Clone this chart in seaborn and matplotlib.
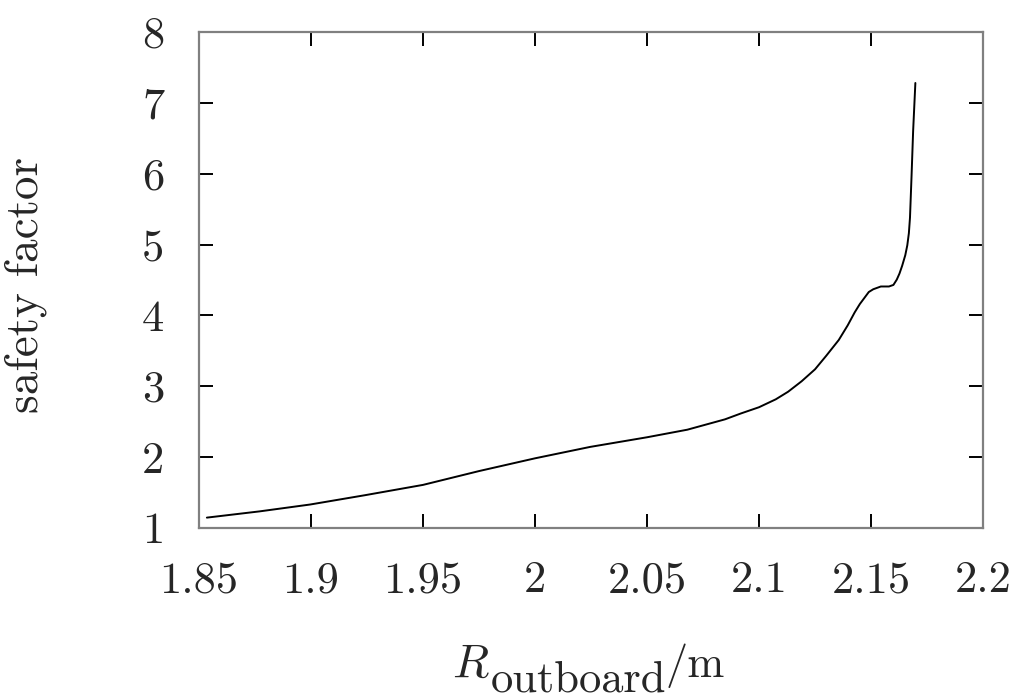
import matplotlib
matplotlib.use("Agg")
import matplotlib.pyplot as plt
import seaborn as sns
import pandas as pd

# Safety factor profile against outboard major radius
r_outboard = [1.8535, 1.877, 1.8996, 1.924, 1.950, 1.975, 2.000, 2.0246, 2.050,
              2.068, 2.0848, 2.0919, 2.100, 2.1075, 2.113, 2.119, 2.125, 2.130,
              2.1356, 2.1396, 2.1427, 2.145, 2.1474, 2.149, 2.151, 2.1544,
              2.158, 2.160, 2.1615, 2.1627, 2.1639, 2.1653, 2.1662, 2.1669,
              2.1674, 2.1681, 2.1688, 2.1698]
safety_factor = [1.146, 1.234, 1.331, 1.462, 1.608, 1.803, 1.983, 2.144, 2.280,
                 2.387, 2.533, 2.616, 2.704, 2.816, 2.923, 3.07, 3.239, 3.43,
                 3.653, 3.86, 4.042, 4.16, 4.262, 4.33, 4.369, 4.408,
                 4.408, 4.43, 4.505, 4.59, 4.70, 4.85, 4.99, 5.16,
                 5.38, 5.97, 6.60, 7.28]

x_ticks = [1.85, 1.9, 1.95, 2.0, 2.05, 2.1, 2.15, 2.2]
x_tick_labels = ["1.85", "1.9", "1.95", "2", "2.05", "2.1", "2.15", "2.2"]
y_ticks = [1, 2, 3, 4, 5, 6, 7, 8]

df = pd.DataFrame({"R": r_outboard, "q": safety_factor})

sns.set_style("ticks")
plt.rcParams["font.family"] = ["cmr10", "DejaVu Serif"]
plt.rcParams["mathtext.fontset"] = "cm"
plt.rcParams["axes.formatter.use_mathtext"] = True

fig = plt.figure(figsize=(10.26, 6.98), dpi=100)
ax = fig.add_axes([0.1940, 0.2436, 0.7641, 0.7106])

sns.lineplot(data=df, x="R", y="q", ax=ax, color="black", linewidth=1.4,
             estimator=None)

ax.set_xlim(1.85, 2.2)
ax.set_ylim(1, 8)
ax.set_xticks(x_ticks)
ax.set_xticklabels(x_tick_labels)
ax.set_yticks(y_ticks)
ax.set_yticklabels([str(v) for v in y_ticks])

for side in ["left", "right", "top", "bottom"]:
    ax.spines[side].set_visible(True)
    ax.spines[side].set_color("#808080")
    ax.spines[side].set_linewidth(1.6)

ax.tick_params(direction="in", length=10, width=1.4, color="black",
               top=True, right=True, labelsize=32)
ax.tick_params(axis="x", pad=24)
ax.tick_params(axis="y", pad=25)

# y-axis label
ax.set_ylabel("safety factor", fontsize=34)
ax.yaxis.set_label_coords(-0.194, 0.49)

# x-axis label: italic R with a full-size roman subscript, then "/m"
ax.set_xlabel("")
lbl_size = 32
main_base = 1 - 677 / 698
sub_base = 1 - 691 / 698
t_r = ax.annotate("$R$", xy=(452 / 1026, main_base), xycoords="figure fraction",
                  ha="left", va="baseline", fontsize=lbl_size + 2,
                  annotation_clip=False)
t_sub = ax.annotate("outboard", xy=(1.0, sub_base),
                    xycoords=(t_r, "figure fraction"),
                    xytext=(1, 0), textcoords="offset pixels",
                    ha="left", va="baseline", fontsize=lbl_size,
                    annotation_clip=False)
t_unit = ax.annotate("/m", xy=(1.0, main_base),
                     xycoords=(t_sub, "figure fraction"),
                     ha="left", va="baseline", fontsize=lbl_size,
                     annotation_clip=False)

fig.savefig("out.png", dpi=100, facecolor="white")
